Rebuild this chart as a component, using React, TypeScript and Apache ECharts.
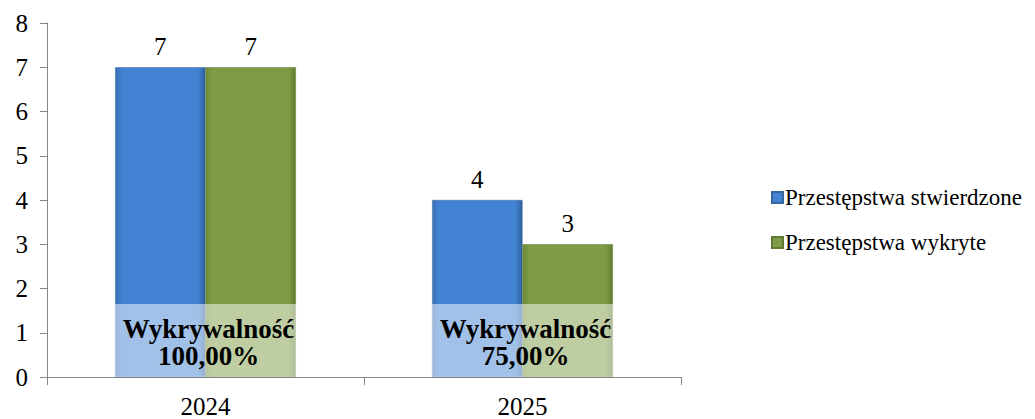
import React, { useEffect, useRef } from "react";
import * as echarts from "echarts";

const categories = ["2024", "2025"];
const stwierdzone = [7, 4];
const wykryte = [7, 3];
const seriesNames = ["Przestępstwa stwierdzone", "Przestępstwa wykryte"];
const yTicks = { min: 0, max: 8, interval: 1 };
const overlayTop = 1.65;
const overlayCaption = "Wykrywalność";

const serif = "Liberation Serif";

function rateText(i: number): string {
  const r = (wykryte[i] / stwierdzone[i]) * 100;
  return r.toFixed(2).replace(".", ",") + "%";
}

function barGrad(edge: string, mid: string, edge2: string) {
  return new echarts.graphic.LinearGradient(0, 0, 1, 0, [
    { offset: 0, color: edge },
    { offset: 0.08, color: mid },
    { offset: 0.92, color: mid },
    { offset: 1, color: edge2 },
  ]);
}

export default function App() {
  const ref = useRef<HTMLDivElement>(null);
  useEffect(() => {
    if (!ref.current) return;
    const chart = echarts.init(ref.current, undefined, { renderer: "svg" });
    const option: any = {
      animation: false,
      backgroundColor: "#ffffff",
      textStyle: { fontFamily: serif },
      grid: { left: 47, right: 354, top: 23, bottom: 41, containLabel: false },
      legend: {
        data: seriesNames,
        orient: "vertical",
        left: 766,
        top: 181,
        itemWidth: 11,
        itemHeight: 11,
        itemGap: 22,
        icon: "rect",
        textStyle: { fontFamily: serif, fontSize: 23, color: "#000", padding: [0, 0, 0, -3] },
      },
      xAxis: {
        type: "category",
        data: categories,
        axisLine: { lineStyle: { color: "#868686", width: 1 } },
        axisTick: { show: true, length: 8, lineStyle: { color: "#868686" } },
        axisLabel: { fontFamily: serif, fontSize: 25, color: "#000", margin: 17 },
      },
      yAxis: {
        type: "value",
        min: yTicks.min,
        max: yTicks.max,
        interval: yTicks.interval,
        splitLine: { show: false },
        axisLine: { show: true, lineStyle: { color: "#868686", width: 1 } },
        axisTick: { show: true, length: 7, lineStyle: { color: "#868686" } },
        axisLabel: { fontFamily: serif, fontSize: 25, color: "#000", margin: 19 },
      },
      series: [
        {
          name: seriesNames[0],
          type: "bar",
          data: stwierdzone,
          barGap: "0%",
          barCategoryGap: "43%",
          itemStyle: {
            color: barGrad("#3a6fb5", "#4283d3", "#30609f"),
            borderColor: "#36679f",
            borderWidth: 0.5,
          },
          label: {
            show: true,
            position: "top",
            distance: 8,
            fontFamily: serif,
            fontSize: 25,
            color: "#000",
          },
        },
        {
          name: seriesNames[1],
          type: "bar",
          data: wykryte,
          itemStyle: {
            color: barGrad("#6f8c3a", "#7e9c45", "#627c32"),
            borderColor: "#607a34",
            borderWidth: 0.5,
          },
          label: {
            show: true,
            position: "top",
            distance: 8,
            fontFamily: serif,
            fontSize: 25,
            color: "#000",
          },
        },
        {
          type: "custom",
          name: "overlay",
          z: 10,
          data: categories.map((_, i) => [i]),
          renderItem: (params: any, api: any) => {
            const idx = api.value(0);
            const p0 = api.coord([idx, 0]);
            const p1 = api.coord([idx, overlayTop]);
            const band = api.size([1, 0])[0];
            const w = band * 0.59;
            const cx = p0[0] + 3;
            return {
              type: "group",
              children: [
                {
                  type: "rect",
                  shape: { x: cx - w / 2, y: p1[1], width: w, height: p0[1] - p1[1] },
                  style: { fill: "rgba(255,255,255,0.5)" },
                },
                {
                  type: "text",
                  style: {
                    x: cx,
                    y: (p0[1] + p1[1]) / 2 + 2,
                    text: overlayCaption + "\n" + rateText(idx),
                    align: "center",
                    verticalAlign: "middle",
                    fontFamily: serif,
                    fontWeight: "bold",
                    fontSize: 27,
                    lineHeight: 27,
                    fill: "#000",
                  },
                },
              ],
            };
          },
        },
      ],
    };
    chart.setOption(option);
    return () => chart.dispose();
  }, []);
  return <div ref={ref} style={{ width: 1035, height: 419, position: "absolute", left: 0, top: 0 }} />;
}
